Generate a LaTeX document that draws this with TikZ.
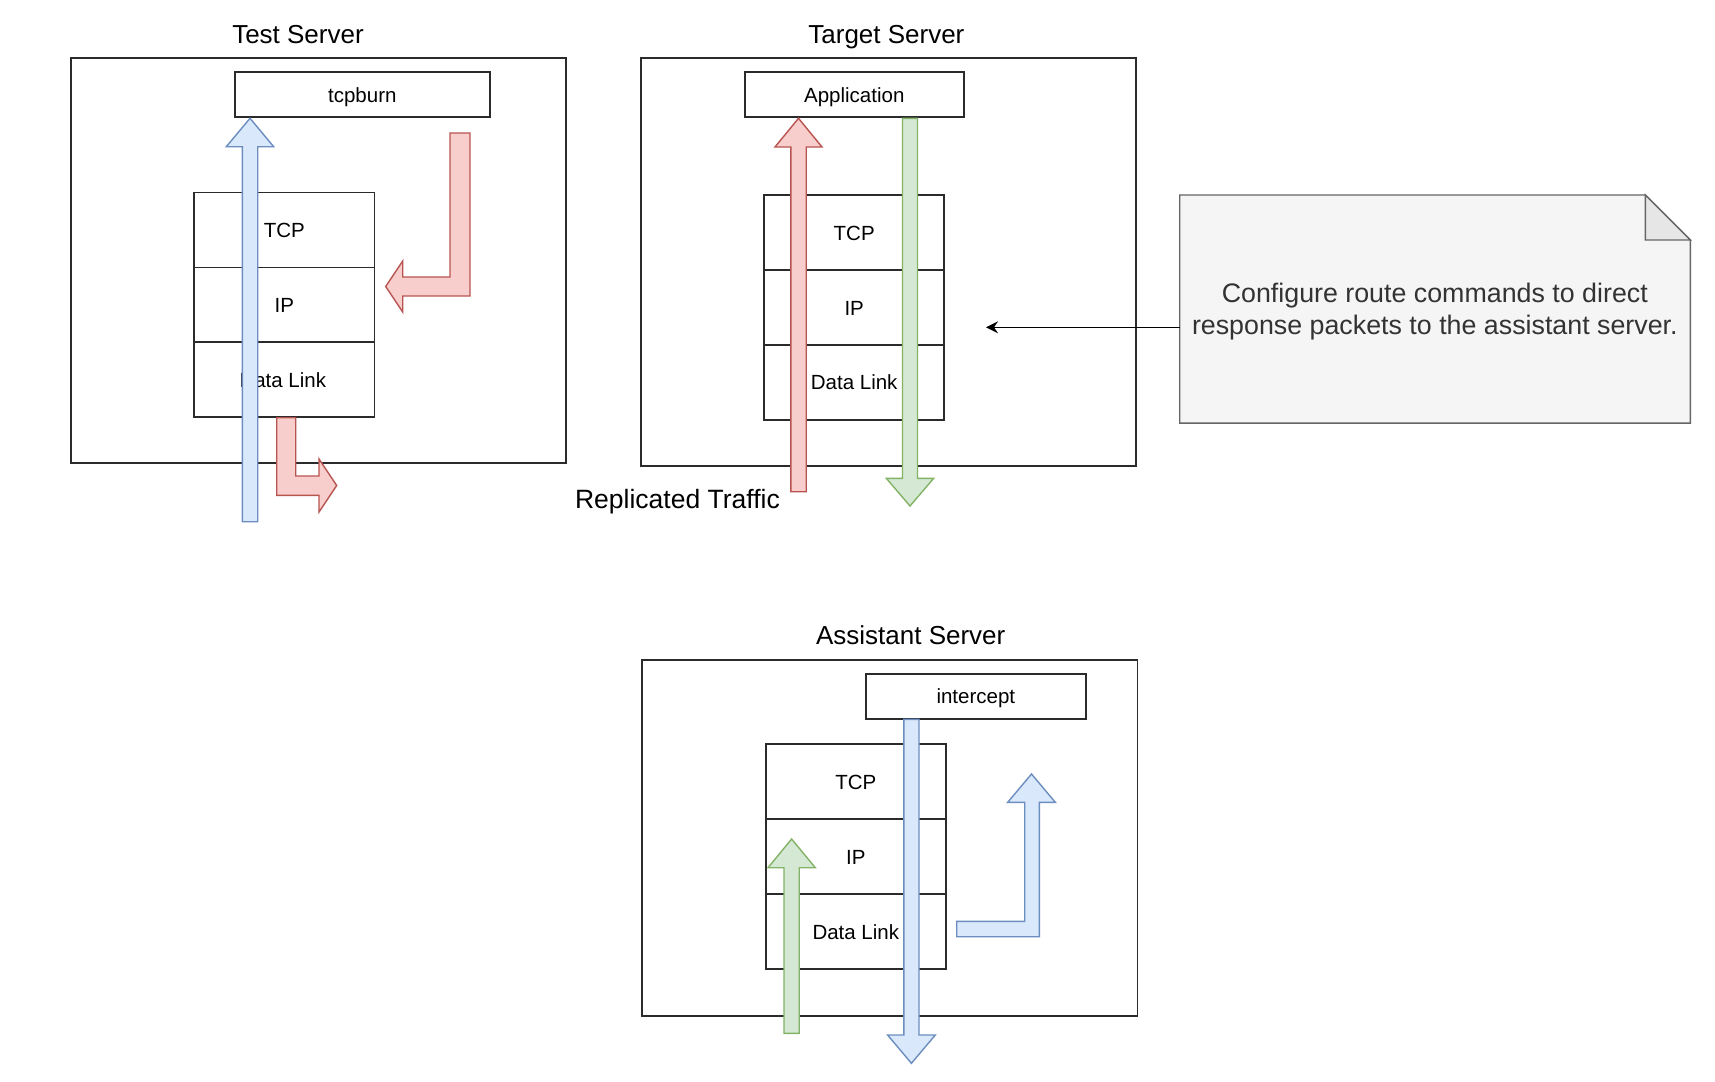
\documentclass[tikz,border=0pt]{standalone}
\usepackage{fontspec}
\setmainfont{Liberation Sans}
\usetikzlibrary{arrows.meta}
\definecolor{bfill}{HTML}{DAE8FC}
\definecolor{bdraw}{HTML}{6C8EBF}
\definecolor{rfill}{HTML}{F8CECC}
\definecolor{rdraw}{HTML}{B85450}
\definecolor{gfill}{HTML}{D5E8D4}
\definecolor{gdraw}{HTML}{82B366}
\definecolor{nfill}{HTML}{F5F5F5}
\definecolor{ndraw}{HTML}{666666}
\definecolor{ntext}{HTML}{333333}
\definecolor{nfold}{HTML}{E6E6E6}
\definecolor{boxline}{HTML}{2B2B2B}
\begin{document}
\begin{tikzpicture}[x=1pt,y=-1pt,
  outerbox/.style={draw=boxline, line width=1.8pt, inner sep=0pt, anchor=north west, minimum width=495.3pt},
  layerbox/.style={draw=boxline, line width=1.8pt, fill=white, inner sep=0pt,
     text height=14.7pt, text depth=0pt, font=\fontsize{20.5}{24}\selectfont},
  stackrow/.style={layerbox, minimum width=180.3pt, minimum height=75pt},
  servertitle/.style={anchor=base, inner sep=0pt, font=\fontsize{26}{30}\selectfont},
  bluearrow/.style={fill=bfill, draw=bdraw, line width=1.4pt, line join=miter},
  redarrow/.style={fill=rfill, draw=rdraw, line width=1.4pt, line join=miter},
  greenarrow/.style={fill=gfill, draw=gdraw, line width=1.4pt, line join=miter},
  notestyle/.style={fill=nfill, draw=ndraw, line width=1.4pt, line join=miter},
  notetextstyle/.style={text=ntext, align=center, inner sep=0pt, font=\fontsize{26.8}{32.3}\selectfont}]
\useasboundingbox[fill=white] (0,0) rectangle (1715,1081);

% ---------- Test Server ----------
\node[outerbox, minimum height=405pt] (ts) at (70,57.3) {};
\node[servertitle] (tstitle) at (298,43.7) {Test Server};
\node[layerbox, minimum width=255.3pt, minimum height=45pt] (tcpburn) at (362.3,94.8) {tcpburn};
\node[stackrow] (tsTCP) at (284.3,230) {TCP};
\node[stackrow] (tsIP) at (284.3,305) {IP};
\node[stackrow] (tsDL) at (284.3,379.8) {\kern-3pt Data Link};

% ---------- Target Server ----------
\node[outerbox, minimum height=408pt] (tg) at (640,57.3) {};
\node[servertitle] (tgtitle) at (886.4,43.7) {Target Server};
\node[layerbox, minimum width=219.3pt, minimum height=45pt] (app) at (854.3,94.8) {Application};
\node[stackrow] (tgTCP) at (854.2,232.8) {TCP};
\node[stackrow] (tgIP) at (854.2,307.7) {IP};
\node[stackrow] (tgDL) at (854.2,382.5) {Data Link};
\node[anchor=base east, inner sep=0pt, font=\fontsize{26.5}{30}\selectfont] (repl) at (780,508.3) {Replicated Traffic};

% ---------- Assistant Server ----------
\node[outerbox, minimum height=355.7pt] (as) at (641.3,659) {};
\node[servertitle] (astitle) at (910.7,644.3) {Assistant Server};
\node[layerbox, minimum width=219.7pt, minimum height=45.3pt] (intercept) at (975.8,696.3) {intercept};
\node[stackrow] (asTCP) at (855.8,781.8) {TCP};
\node[stackrow] (asIP) at (855.8,856.8) {IP};
\node[stackrow] (asDL) at (855.8,931.8) {Data Link};

% ---------- Note ----------
\node[anchor=north west, inner sep=0pt, minimum width=510.3pt, minimum height=227.7pt] (note) at (1179.7,195) {};
\path[notestyle] (note.north west) -- ([xshift=-45pt]note.north east) -- ([yshift=-45pt]note.north east)
   -- (note.south east) -- (note.south west) -- cycle;
\path[notestyle, fill=nfold] ([xshift=-45pt]note.north east) -- ([xshift=-45pt,yshift=-45pt]note.north east)
   -- ([yshift=-45pt]note.north east) -- cycle;
\node[notetextstyle] (notetext) at (1434.8,311.9) {Configure route commands to direct\\response packets to the assistant server.};
\coordinate (notetip) at (986,327.3);
\draw[line width=1.4pt, -{Stealth[length=12pt,width=12pt,inset=4pt]}] (note.west |- notetip) -- (notetip);

% ---------- Arrows: Test Server ----------
\path[bluearrow] (242.3,521.7) -- (242.3,146.7) -- (226.3,146.7) -- (250,118.3) -- (273.7,146.7)
   -- (257.7,146.7) -- (257.7,521.7) -- cycle;
\path[redarrow] (450,133) -- (470,133) -- (470,296) -- (402.7,296) -- (402.7,312) -- (385.7,286.5)
   -- (402.7,261) -- (402.7,277) -- (450,277) -- cycle;
\path[redarrow] (276.7,417.7) -- (295.7,417.7) -- (295.7,476) -- (319,476) -- (319,459) -- (336.7,485.5)
   -- (319,512) -- (319,495.3) -- (276.7,495.3) -- cycle;

% ---------- Arrows: Target Server ----------
\path[redarrow] (790.8,491.7) -- (790.8,147) -- (775,147) -- (798.5,118.3) -- (822,147)
   -- (806.2,147) -- (806.2,491.7) -- cycle;
\path[greenarrow] (902.5,118.3) -- (917.5,118.3) -- (917.5,478.3) -- (933.7,478.3) -- (910,506)
   -- (886.3,478.3) -- (902.5,478.3) -- cycle;

% ---------- Arrows: Assistant Server ----------
\path[greenarrow] (784,1033.3) -- (784,867.7) -- (768,867.7) -- (791.6,839) -- (815.3,867.7)
   -- (799.2,867.7) -- (799.2,1033.3) -- cycle;
\path[bluearrow] (903.8,719.3) -- (919,719.3) -- (919,1035) -- (935.3,1035) -- (911.4,1063.3)
   -- (887.6,1035) -- (903.8,1035) -- cycle;
\path[bluearrow] (956.7,921.3) -- (1024.7,921.3) -- (1024.7,802.3) -- (1007.7,802.3) -- (1031.5,774)
   -- (1055.3,802.3) -- (1039.3,802.3) -- (1039.3,936.7) -- (956.7,936.7) -- cycle;
\end{tikzpicture}
\end{document}
